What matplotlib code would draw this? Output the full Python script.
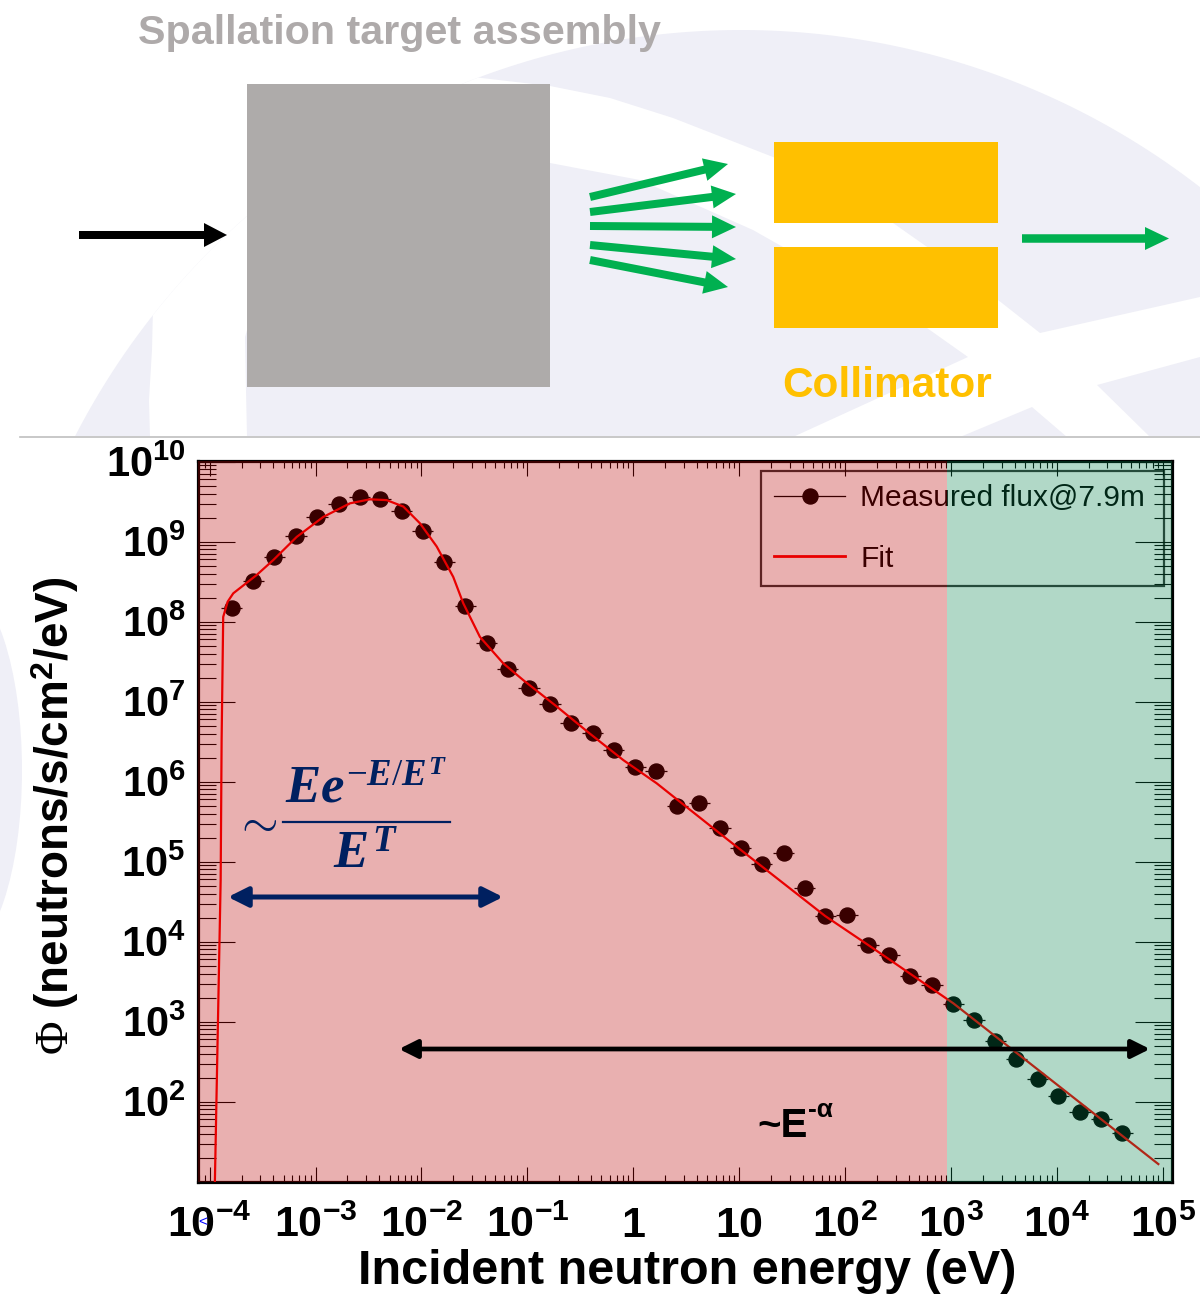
import numpy as np
import matplotlib
matplotlib.use("Agg")
import matplotlib.pyplot as plt
import matplotlib.patches as mpatches
from matplotlib.lines import Line2D
from matplotlib.ticker import LogLocator, NullFormatter

# ---------------- data ----------------
log_energy = [-3.792, -3.588, -3.390, -3.185, -2.987, -2.782, -2.584, -2.389, -2.187, -1.989,
              -1.785, -1.586, -1.384, -1.186, -0.985, -0.787, -0.588, -0.383, -0.185, 0.019,
              0.214, 0.416, 0.623, 0.819, 1.014, 1.212, 1.420, 1.618, 1.813, 2.018,
              2.216, 2.417, 2.616, 2.821, 3.022, 3.217, 3.418, 3.617, 3.819, 4.013,
              4.218, 4.419, 4.618]
log_flux = [8.167, 8.509, 8.805, 9.071, 9.305, 9.471, 9.555, 9.534, 9.384, 9.134,
            8.746, 8.200, 7.734, 7.405, 7.168, 6.971, 6.738, 6.605, 6.400, 6.184,
            6.134, 5.696, 5.730, 5.425, 5.168, 4.968, 5.105, 4.668, 4.321, 4.338,
            3.959, 3.834, 3.575, 3.455, 3.218, 3.025, 2.759, 2.530, 2.284, 2.071,
            1.875, 1.780, 1.613]
log_energy_halfwidth = 0.1

fit_log_energy = [-3.952, -3.896, -3.887, -3.872, -3.830, -3.777, -3.556, -3.399, -3.178, -2.927,
                  -2.675, -2.486, -2.329, -2.172, -2.014, -1.856, -1.700, -1.605, -1.448, -1.228,
                  -1.039, -0.723, -0.409, -0.094, 0.221, 0.535, 0.897, 1.813, 2.217, 3.022, 4.958]
fit_log_flux = [0.90, 4.77, 6.52, 8.06, 8.25, 8.355, 8.584, 8.771, 9.06, 9.31,
                9.48, 9.53, 9.52, 9.44, 9.23, 8.94, 8.56, 8.23, 7.81, 7.48,
                7.27, 6.94, 6.60, 6.27, 5.98, 5.65, 5.27, 4.32, 3.96, 3.23, 1.22]

x_tick_exponents = [-4, -3, -2, -1, 0, 1, 2, 3, 4, 5]
x_tick_texts = ["10^{-4}", "10^{-3}", "10^{-2}", "10^{-1}", "1", "10",
                "10^{2}", "10^{3}", "10^{4}", "10^{5}"]
y_tick_exponents = [2, 3, 4, 5, 6, 7, 8, 9, 10]
legend_labels = ["Measured flux@7.9m", "Fit"]
region_split_log = 2.96   # boundary between the red and green shaded regions

# ---------------- fonts ----------------
SANS = ["Liberation Sans", "DejaVu Sans"]
plt.rcParams["font.family"] = SANS
plt.rcParams["mathtext.fontset"] = "custom"
plt.rcParams["mathtext.rm"] = "Liberation Serif"
plt.rcParams["mathtext.it"] = "Liberation Serif:italic:bold"
plt.rcParams["mathtext.bf"] = "Liberation Sans:bold"

W, H = 1200, 1299
fig = plt.figure(figsize=(W / 100, H / 100), dpi=100)
fig.patch.set_facecolor("white")

# ---------------- background / schematic (pixel coordinates) ----------------
bg = fig.add_axes([0, 0, 1, 1], zorder=-1)
bg.set_xlim(0, W)
bg.set_ylim(H, 0)
bg.axis("off")

LAV = "#EFEFF7"
cx, cy, r = 741.0, 779.0, 749.0
t0 = np.arctan2(436 - cy, -np.sqrt(r**2 - (436 - cy) ** 2))
t1 = np.arctan2(436 - cy, np.sqrt(r**2 - (436 - cy) ** 2))
tt = np.linspace(t0, t1, 200)
arc = np.column_stack([cx + r * np.cos(tt), cy + r * np.sin(tt)])
bg.add_patch(mpatches.Polygon(arc, closed=True, fc=LAV, ec="none", zorder=1))
bg.add_patch(mpatches.Ellipse((-40, 770), 124, 370, fc=LAV, ec="none", zorder=1))

ta = np.arctan2(317 - cy, 155 - cx)
tb = np.arctan2(77 - cy, 478 - cx)
tt2 = np.linspace(ta, tb, 60)
left_arc = [(cx + r * np.cos(t), cy + r * np.sin(t)) for t in tt2]
white_band = [(550, 86), (610, 98), (673, 118), (773, 157), (840, 190), (893, 223),
              (960, 270), (1040, 333), (1200, 297), (1200, 357), (1097, 385), (1150, 437),
              (1067, 437), (1032, 407), (960, 437), (793, 437), (968, 357), (927, 328),
              (850, 285), (753, 230), (640, 180), (550, 163), (400, 195), (300, 250),
              (250, 320), (245, 337), (246, 390), (247, 437), (150, 437), (149, 400),
              (152, 350)] + left_arc
bg.add_patch(mpatches.Polygon(white_band, closed=True, fc="white", ec="none", zorder=2))

bg.plot([20, 1200], [436.5, 436.5], color="#BFBFBF", lw=1.2, zorder=3)

bg.add_patch(mpatches.Rectangle((247, 84), 303, 303, fc="#AEABAA", ec="none", zorder=4))
bg.add_patch(mpatches.Rectangle((774, 142), 224, 81, fc="#FFC000", ec="none", zorder=4))
bg.add_patch(mpatches.Rectangle((774, 247), 224, 81, fc="#FFC000", ec="none", zorder=4))

bg.add_patch(mpatches.FancyArrow(79, 235, 148, 0, width=8, head_width=24, head_length=23,
                                 length_includes_head=True, fc="black", ec="none", zorder=5))
GREEN = "#00B050"
fan = [((590, 197), (728, 164)), ((590, 212), (736, 194)), ((590, 226), (736, 227)),
       ((590, 245), (736, 259)), ((590, 260), (728, 287))]
for (x0, y0), (x1, y1) in fan:
    bg.add_patch(mpatches.FancyArrow(x0, y0, x1 - x0, y1 - y0, width=8, head_width=23,
                                     head_length=24, length_includes_head=True,
                                     fc=GREEN, ec="none", zorder=5))
bg.add_patch(mpatches.FancyArrow(1022, 238.5, 147, 0, width=8.5, head_width=23, head_length=24,
                                 length_includes_head=True, fc=GREEN, ec="none", zorder=5))

bg.text(138, 44, "Spallation target assembly", weight="bold",
        fontsize=29.7, color="#AEAAAA", ha="left", va="baseline", zorder=6)
bg.text(887, 397, "Collimator", weight="bold", fontsize=30.5,
        color="#FFC000", ha="center", va="baseline", zorder=6)

# ---------------- main plot ----------------
L, R, T, B = 198, 1172, 461, 1182
ax = fig.add_axes([L / W, 1 - B / H, (R - L) / W, (B - T) / H])
ax.set_facecolor("white")
ax.set_xscale("log")
ax.set_yscale("log")
ax.set_xlim(10 ** -4.11, 10 ** 5.087)
ax.set_ylim(10 ** 0.996, 10 ** 10.009)

E = 10.0 ** np.array(log_energy)
F = 10.0 ** np.array(log_flux)
xerr = [E - E / 10 ** log_energy_halfwidth, E * 10 ** log_energy_halfwidth - E]
ax.errorbar(E, F, xerr=xerr, fmt="o", ms=10.8, color="black", ecolor="black",
            elinewidth=0.9, capsize=0, zorder=3)
ax.plot(10.0 ** np.array(fit_log_energy), 10.0 ** np.array(fit_log_flux),
        color="red", lw=1.6, zorder=4)

# shaded regions lying over the data
xmin, xmax = ax.get_xlim()
ax.axvspan(xmin, 10 ** region_split_log, color="#BB0000", alpha=0.31, lw=0, zorder=6)
ax.axvspan(10 ** region_split_log, xmax, color="#06814D", alpha=0.31, lw=0, zorder=6)
ax.set_xlim(xmin, xmax)

# ticks
ax.set_xticks([10.0 ** e for e in x_tick_exponents],
              [r"$\mathbf{" + t + "}$" for t in x_tick_texts])
ax.set_yticks([10.0 ** e for e in y_tick_exponents],
              [r"$\mathbf{10^{" + str(e) + "}}$" for e in y_tick_exponents])
ax.xaxis.set_minor_locator(LogLocator(base=10, subs=np.arange(2, 10), numticks=100))
ax.yaxis.set_minor_locator(LogLocator(base=10, subs=np.arange(2, 10), numticks=100))
ax.xaxis.set_minor_formatter(NullFormatter())
ax.yaxis.set_minor_formatter(NullFormatter())
ax.tick_params(which="both", direction="in", top=True, right=True, width=0.8, colors="black")
ax.tick_params(axis="x", which="major", length=10.8, labelsize=31, pad=17)
ax.tick_params(axis="x", which="minor", length=5)
ax.tick_params(axis="y", which="major", length=26.6, labelsize=30, pad=9)
ax.tick_params(axis="y", which="minor", length=13)
for s in ax.spines.values():
    s.set_linewidth(2.3)
    s.set_color("black")

ax.set_xlabel("Incident neutron energy (eV)", weight="bold", fontsize=35)
ax.xaxis.set_label_coords((687 - L) / (R - L), 1 - (1272 - T) / (B - T))
ax.xaxis.label.set_va("center")
ax.set_ylabel(r"$\Phi$ (neutrons/s/cm$^{\mathbf{2}}$/eV)", weight="bold", fontsize=33)
ax.yaxis.set_label_coords((55 - L) / (R - L), 1 - (816 - T) / (B - T))
ax.yaxis.label.set_va("center")

# legend
handles = [Line2D([], [], color="black", lw=0.9, marker="o", ms=10.8),
           Line2D([], [], color="red", lw=2.0)]
leg = ax.legend(handles, legend_labels, loc="upper left",
                bbox_to_anchor=((761 - L) / (R - L), 1 - (585 - T) / (B - T),
                                (1164 - 761) / (R - L), (585 - 471) / (B - T)),
                mode="expand", borderaxespad=0, fontsize=21.5, frameon=True,
                fancybox=False, edgecolor="black", facecolor="none", framealpha=None,
                handlelength=2.37, handletextpad=0.5, borderpad=0.45, labelspacing=1.08)
leg.get_frame().set_linewidth(1.6)
leg.set_zorder(5)

# annotations (pixel positions through the background transform)
P = bg.transData
NAVY = "#002060"
ax.text(256, 823, r"$\sim$", transform=P, fontsize=34, color=NAVY, ha="center",
        va="center", zorder=10, clip_on=False)
ax.text(366, 802, r"$Ee^{-E/E^{T}}$", transform=P, fontsize=38, color=NAVY, ha="center",
        va="baseline", zorder=10, clip_on=False)
ax.plot([283, 450], [822, 822], transform=P, color=NAVY, lw=1.6, zorder=10, clip_on=False)
ax.text(365, 868, r"$E^{T}$", transform=P, fontsize=38, color=NAVY, ha="center",
        va="baseline", zorder=10, clip_on=False)
ax.annotate("", xy=(228, 897), xytext=(503, 897), xycoords=P, textcoords=P,
            arrowprops=dict(arrowstyle="<|-|>,head_length=1.0,head_width=0.5",
                            mutation_scale=12, color=NAVY, lw=3.6, shrinkA=0, shrinkB=0),
            zorder=10, annotation_clip=False)
ax.annotate("", xy=(399, 1049), xytext=(1150, 1049), xycoords=P, textcoords=P,
            arrowprops=dict(arrowstyle="<|-|>,head_length=1.0,head_width=0.5",
                            mutation_scale=11, color="black", lw=3.4, shrinkA=0, shrinkB=0),
            zorder=10, annotation_clip=False)
ax.text(757, 1137, "~E", transform=P, weight="bold", fontsize=29,
        color="black", ha="left", va="baseline", zorder=10, clip_on=False)
ax.text(808, 1117, "-α", transform=P, weight="bold", fontsize=19,
        color="black", ha="left", va="baseline", zorder=10, clip_on=False)
ax.text(203, 1222, "<", transform=P, fontsize=11, color="blue", ha="center",
        va="center", zorder=10, clip_on=False)

fig.savefig("out.png", dpi=100)
